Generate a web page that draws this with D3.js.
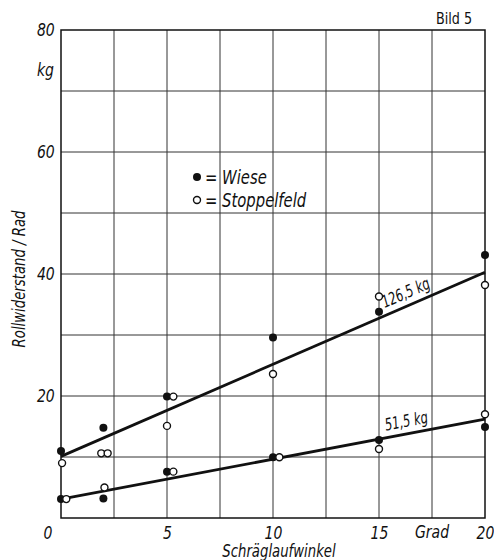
<!DOCTYPE html>
<html>
<head>
<meta charset="utf-8">
<script src="https://cdn.jsdelivr.net/npm/d3@7"></script>
<style>
  html, body { margin: 0; padding: 0; background: #fff; }
  svg text { font-family: 'DejaVu Sans', sans-serif; fill: #111; }
</style>
</head>
<body>
<svg id="chart" width="494" height="560"></svg>
<script>
// Schräglaufwinkel (Grad) und Rollwiderstand je Rad (kg)
const wieseX = [0, 0, 2, 2, 5, 5, 10, 10, 15, 15, 20, 20];
const wieseY = [11.0, 3.1, 14.8, 3.2, 19.9, 7.6, 29.6, 9.95, 33.8, 12.8, 43.1, 14.9];
const stoppelX = [0.05, 0.25, 1.9, 2.2, 2.05, 5.0, 5.3, 5.3, 10, 10.3, 15, 15, 20, 20];
const stoppelY = [9.0, 3.1, 10.6, 10.6, 5.0, 15.1, 19.9, 7.6, 23.6, 9.95, 36.3, 11.3, 38.2, 17.0];

// Ausgleichsgeraden für die beiden Radlasten
const loadLabels = ["126,5 kg", "51,5 kg"];
const lineStart = [10.1, 3.1];
const lineEnd = [40.3, 16.2];
const lineLabelX = [16.5, 16.4];

const xTicks = [0, 5, 10, 15, 20];
const yTicks = [20, 40, 60, 80];
const xGrid = [2.5, 5, 7.5, 10, 12.5, 15, 17.5];
const yGrid = [10, 20, 30, 40, 50, 60, 70];

const NARROW = 0.78; // schmale Normschrift

const svg = d3.select("#chart");
const x = d3.scaleLinear().domain([0, 20]).range([61, 485]);
const y = d3.scaleLinear().domain([0, 80]).range([518, 30]);

function label(px, py, str, opts = {}) {
  const { size = 17, italic = true, anchor = "middle", rotate = 0, sx = NARROW } = opts;
  return svg.append("text")
    .attr("transform", `translate(${px},${py}) rotate(${rotate}) scale(${sx},1)`)
    .attr("text-anchor", anchor)
    .attr("font-size", size)
    .attr("font-style", italic ? "italic" : "normal")
    .text(str);
}

// Gitter
svg.append("g").selectAll("line").data(xGrid).join("line")
  .attr("x1", d => x(d)).attr("x2", d => x(d))
  .attr("y1", y(0)).attr("y2", y(80))
  .attr("stroke", "#333").attr("stroke-width", 1);
svg.append("g").selectAll("line").data(yGrid).join("line")
  .attr("x1", x(0)).attr("x2", x(20))
  .attr("y1", d => y(d)).attr("y2", d => y(d))
  .attr("stroke", "#333").attr("stroke-width", 1);

// Rahmen
svg.append("rect")
  .attr("x", x(0)).attr("y", y(80))
  .attr("width", x(20) - x(0)).attr("height", y(0) - y(80))
  .attr("fill", "none").attr("stroke", "#111").attr("stroke-width", 1.5);

// Achsenbeschriftung x
const xAxis = d3.axisBottom(x).tickValues(xTicks).tickSize(0).tickPadding(8)
  .tickFormat(d3.format("d"));
const gx = svg.append("g").attr("transform", `translate(0,${y(0)})`).call(xAxis);
gx.select(".domain").remove();
gx.selectAll("text").attr("font-size", 18).attr("font-style", "italic")
  .attr("font-family", null).attr("fill", "#111")
  .attr("transform", `scale(${NARROW},1)`);
gx.selectAll(".tick").filter(d => d === 0).attr("transform", `translate(${x(0) - 13},0)`);

label(x(17.5), 538, "Grad", { size: 18 });
label(279, 557, "Schräglaufwinkel", { size: 17 });

// Achsenbeschriftung y
const yAxis = d3.axisLeft(y).tickValues(yTicks).tickSize(0).tickPadding(8)
  .tickFormat(d3.format("d"));
const gy = svg.append("g").attr("transform", `translate(${x(0)},0)`).call(yAxis);
gy.select(".domain").remove();
gy.selectAll("text").attr("font-size", 18).attr("font-style", "italic")
  .attr("font-family", null).attr("fill", "#111")
  .attr("transform", `scale(${NARROW},1)`);

label(54, 76, "kg", { size: 18, anchor: "end" });
label(25, 279, "Rollwiderstand / Rad", { size: 17, rotate: -90 });

label(472, 24, "Bild 5", { size: 15, italic: false, anchor: "end", sx: 0.85 });

// Geraden mit Lastangabe
loadLabels.forEach((lab, i) => {
  svg.append("line")
    .attr("x1", x(0)).attr("y1", y(lineStart[i]))
    .attr("x2", x(20)).attr("y2", y(lineEnd[i]))
    .attr("stroke", "#111").attr("stroke-width", 2.8);
  const lx = lineLabelX[i];
  const ly = lineStart[i] + (lineEnd[i] - lineStart[i]) * lx / 20;
  const ang = Math.atan2(y(lineEnd[i]) - y(lineStart[i]), x(20) - x(0)) * 180 / Math.PI;
  svg.append("text")
    .attr("transform", `translate(${x(lx)},${y(ly)}) rotate(${ang}) translate(0,-7) scale(0.68,1)`)
    .attr("text-anchor", "middle").attr("font-size", 17).attr("font-style", "italic")
    .text(lab);
});

// Messpunkte
svg.append("g").selectAll("circle").data(wieseX.map((d, i) => [d, wieseY[i]])).join("circle")
  .attr("cx", d => x(d[0])).attr("cy", d => y(d[1])).attr("r", 4)
  .attr("fill", "#111");
svg.append("g").selectAll("circle").data(stoppelX.map((d, i) => [d, stoppelY[i]])).join("circle")
  .attr("cx", d => x(d[0])).attr("cy", d => y(d[1])).attr("r", 3.5)
  .attr("fill", "#fff").attr("stroke", "#111").attr("stroke-width", 1.4);

// Legende
const legend = [["Wiese", true], ["Stoppelfeld", false]];
legend.forEach(([name, filled], i) => {
  const ly = 177 + i * 23;
  svg.append("circle").attr("cx", 197).attr("cy", ly).attr("r", filled ? 4 : 3.5)
    .attr("fill", filled ? "#111" : "#fff").attr("stroke", "#111")
    .attr("stroke-width", filled ? 0 : 1.4);
  label(205, ly + 7, "= " + name, { size: 19, anchor: "start" });
});
</script>
</body>
</html>
